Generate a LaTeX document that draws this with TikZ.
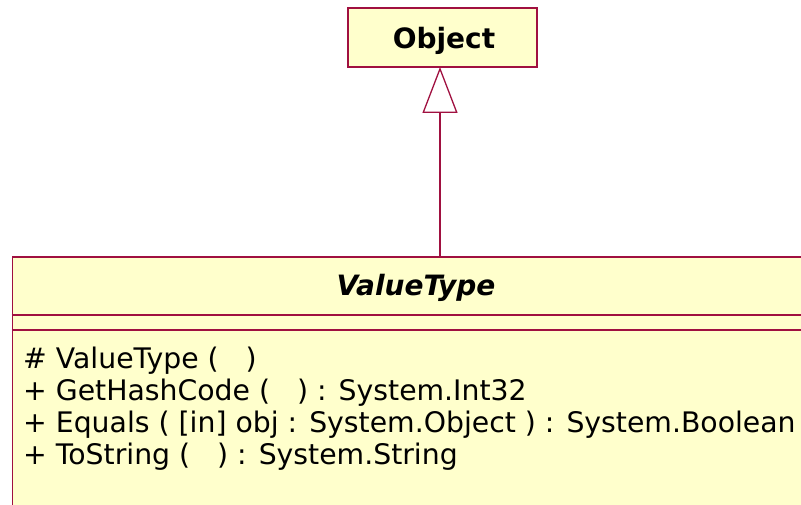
\documentclass[tikz,border=0pt]{standalone}
\usepackage{fontspec}
\setmainfont{DejaVu Sans}
\usetikzlibrary{arrows.meta}
\definecolor{umlfill}{RGB}{255,255,204}
\definecolor{umlline}{RGB}{160,16,64}
\tikzset{
  classbox/.style={draw=umlline, fill=umlfill, line width=1.3pt, inner sep=0pt},
  member/.style={anchor=base west, inner sep=0pt, font=\fontsize{28.3}{32}\selectfont},
  title/.style={anchor=base, inner sep=0pt, font=\fontsize{28}{32}\selectfont\bfseries},
  inherit/.style={draw=umlline, line width=1.3pt, -{Triangle[open, length=46pt, width=35pt, line width=1.3pt]}},
}
\begin{document}
\begin{tikzpicture}[x=1pt, y=-1pt]
  \useasboundingbox (0,0) rectangle (801,505);
  \clip (0,0) rectangle (801,505);
  % base class
  \node[classbox, minimum width=189pt, minimum height=59pt] (obj) at (442.5,37.5) {};
  \node[title] (objname) at (444,49) {Object};
  % derived class, running past the right and bottom edges
  \node[classbox, anchor=north west, minimum width=830pt, minimum height=300pt] (vt) at (11.5,256.5) {};
  \node[title, font=\fontsize{28}{32}\selectfont\bfseries\itshape] (vtname) at (416,296) {ValueType};
  \draw[umlline, line width=1.3pt] (vt.west |- 0,315) -- (vt.east |- 0,315);
  \draw[umlline, line width=1.3pt] (vt.west |- 0,330) -- (vt.east |- 0,330);
  \node[member] (m1) at (23,368) {\# ValueType (\ \ \ )};
  \node[member] (m2) at (23,400) {+ GetHashCode (\ \ \ ) : System.Int32};
  \node[member] (m3) at (23,432) {+ Equals ( [in] obj : System.Object ) : System.Boolean};
  \node[member] (m4) at (23,464) {+ ToString (\ \ \ ) : System.String};
  % generalisation
  \coordinate (tip) at (440,67);
  \draw[inherit] (vt.north -| tip) -- (tip);
\end{tikzpicture}
\end{document}
